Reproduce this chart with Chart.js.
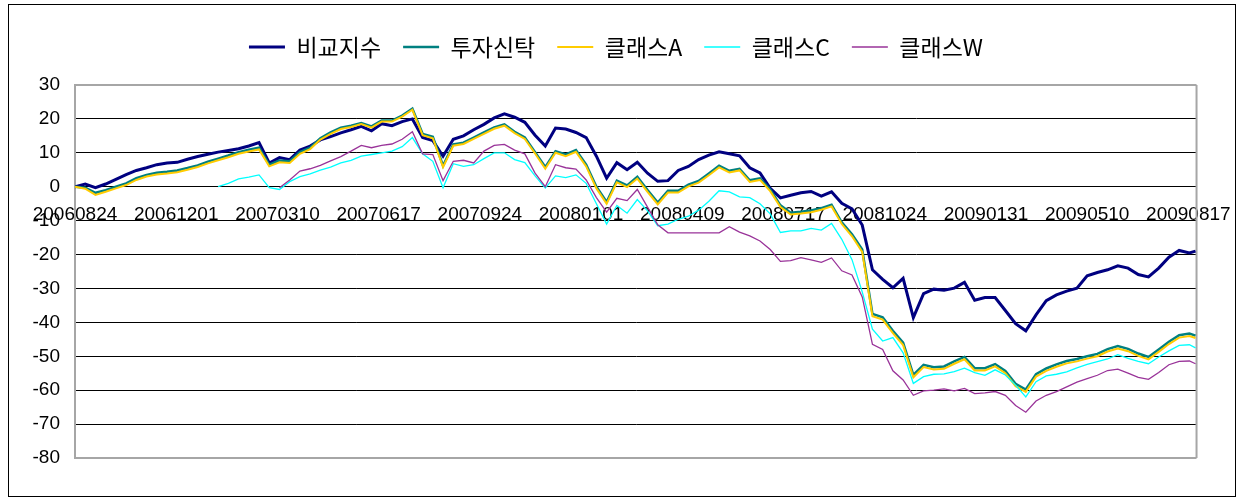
<!DOCTYPE html>
<html lang="ko">
<head>
<meta charset="UTF-8" />
<title>수익률 추이</title>
<style>
  html, body { margin: 0; background: #fff; }
  #wrap { position: relative; width: 1248px; height: 501px; }
</style>
<script src="https://cdn.jsdelivr.net/npm/chart.js"></script>
</head>
<body>
<div id="wrap"><canvas id="chart"></canvas></div>
<script>
// x positions: days since 2006-08-24, one reading every 10 days
const sampleDays = Array.from({ length: 110 }, (_, i) => i * 10).concat([1096]);

// category labels shown on the axis (every 99 days)
const tickDays = [0, 99, 198, 297, 396, 495, 594, 693, 792, 891, 990, 1089];
const tickLabels = ["20060824", "20061201", "20070310", "20070617", "20070924", "20080101",
  "20080409", "20080717", "20081024", "20090131", "20090510", "20090817"];

const seriesNames = ["비교지수", "투자신탁", "클래스A", "클래스C", "클래스W"];

const benchmark = [0, 0.8, -0.3, 0.8, 2.2, 3.6, 4.8, 5.6, 6.5, 7.0,
  7.2, 8.1, 8.9, 9.6, 10.2, 10.7, 11.2, 12.0, 13.0, 7.0,
  8.6, 8.0, 10.8, 12.0, 13.8, 14.8, 15.9, 16.8, 17.8, 16.5,
  18.6, 18.0, 19.2, 20.0, 14.5, 13.6, 9.0, 14.0, 15.0, 16.8,
  18.4, 20.3, 21.5, 20.5, 19.0, 15.2, 12.0, 17.3, 17.0, 16.0,
  14.5, 9.0, 2.5, 7.1, 5.0, 7.2, 4.0, 1.6, 1.8, 4.8,
  6.0, 8.0, 9.3, 10.3, 9.7, 9.1, 5.6, 4.1, -0.5, -3.3,
  -2.5, -1.8, -1.4, -2.8, -1.5, -4.9, -6.5, -11.3, -24.5, -27.3,
  -29.8, -27.0, -38.6, -31.5, -30.2, -30.5, -29.9, -28.2, -33.5, -32.7,
  -32.7, -36.5, -40.4, -42.5, -37.8, -33.6, -31.9, -30.8, -29.9, -26.3,
  -25.3, -24.5, -23.3, -24.0, -25.9, -26.6, -24.0, -20.8, -18.8, -19.5,
  -19.0];

const trust = [0, -0.3, -1.8, -1.0, 0.0, 1.0, 2.5, 3.5, 4.1, 4.4,
  4.8, 5.5, 6.3, 7.4, 8.3, 9.2, 10.2, 10.9, 11.5, 6.5,
  7.7, 7.5, 10.2, 11.5, 14.3, 16.0, 17.4, 18.0, 18.8, 17.8,
  19.5, 19.5, 21.0, 23.0, 15.6, 14.7, 6.2, 12.5, 13.0, 14.5,
  16.0, 17.5, 18.4, 16.2, 14.5, 10.2, 5.8, 10.5, 9.5, 10.8,
  6.5, 0.0, -4.5, 1.8, 0.4, 2.9, -1.0, -4.7, -1.2, -1.2,
  0.6, 1.7, 3.9, 6.2, 4.7, 5.3, 1.9, 2.5, -0.8, -5.5,
  -7.7, -7.4, -7.0, -6.3, -5.3, -10.5, -14.0, -18.5, -37.5, -38.5,
  -42.5, -46.0, -55.5, -52.5, -53.2, -53.0, -51.5, -50.2, -53.5, -53.5,
  -52.3, -54.3, -58.1, -59.8, -55.3, -53.6, -52.4, -51.4, -50.8, -50.0,
  -49.3, -47.9, -47.0, -47.8, -49.2, -50.2, -48.0, -45.7, -43.8, -43.3,
  -43.9];

const classA = [0, -0.6, -2.4, -1.5, -0.5, 0.5, 2.0, 3.0, 3.6, 3.9,
  4.3, 5.0, 5.8, 6.9, 7.8, 8.7, 9.7, 10.4, 11.0, 6.0,
  7.2, 7.0, 9.7, 11.1, 13.9, 15.6, 17.0, 17.6, 18.5, 17.4,
  19.2, 19.2, 20.7, 22.7, 15.2, 14.3, 5.8, 12.1, 12.6, 14.1,
  15.6, 17.1, 18.0, 15.8, 14.1, 9.8, 5.3, 10.0, 9.0, 10.3,
  6.0, -0.5, -5.0, 1.3, -0.1, 2.4, -1.5, -5.2, -1.7, -1.7,
  0.1, 1.2, 3.4, 5.7, 4.2, 4.8, 1.4, 2.0, -1.3, -6.0,
  -8.2, -7.9, -7.5, -6.8, -5.8, -11.0, -14.6, -19.2, -38.2, -39.2,
  -43.2, -46.7, -56.2, -53.2, -53.9, -53.7, -52.2, -50.9, -54.2, -54.2,
  -53.0, -55.0, -58.8, -60.5, -56.0, -54.3, -53.1, -52.1, -51.5, -50.7,
  -50.0, -48.6, -47.7, -48.5, -49.9, -50.9, -48.7, -46.4, -44.5, -44.0,
  -44.6];

const classC = [null, null, null, null, null, null, null, null, null, null,
  null, null, null, null, 0.0, 1.0, 2.3, 2.8, 3.5, -0.3,
  -0.8, 1.5, 3.0, 3.8, 4.9, 5.8, 7.0, 7.8, 9.0, 9.5,
  10.0, 10.5, 11.8, 14.5, 9.7, 7.5, -0.3, 6.8, 6.0, 6.5,
  8.3, 10.0, 10.0, 8.0, 7.1, 3.2, -0.4, 3.2, 2.7, 3.5,
  1.0, -5.0, -11.0, -5.5, -7.8, -3.8, -7.1, -11.5, -11.0, -9.6,
  -8.7, -6.9, -4.3, -1.2, -1.5, -3.0, -3.2, -5.0, -8.0, -13.5,
  -13.0, -13.0, -12.3, -12.8, -10.8, -15.5, -21.5, -31.0, -42.0, -45.5,
  -44.5, -49.0, -58.0, -56.0, -55.3, -55.2, -54.5, -53.5, -54.8, -55.6,
  -54.0, -55.5, -58.5, -62.0, -57.5, -55.8, -55.3, -54.6, -53.4, -52.4,
  -51.6, -50.8, -49.5, -50.6, -51.5, -52.2, -50.2, -48.4, -46.8, -46.6,
  -47.5];

const classW = [null, null, null, null, null, null, null, null, null, null,
  null, null, null, null, null, null, null, null, null, null,
  -0.3, 2.0, 4.6, 5.3, 6.3, 7.6, 8.9, 10.5, 12.2, 11.5,
  12.2, 12.6, 14.0, 16.2, 9.7, 9.5, 1.8, 7.5, 7.8, 7.0,
  10.5, 12.2, 12.5, 10.8, 9.7, 4.0, 0.0, 6.5, 5.6, 5.2,
  2.0, -3.2, -7.5, -3.4, -4.1, -0.8, -6.0, -11.2, -13.6, -13.6,
  -13.6, -13.6, -13.6, -13.6, -11.8, -13.4, -14.5, -16.0, -18.5, -22.0,
  -21.8, -20.9, -21.6, -22.3, -21.0, -24.8, -26.0, -32.5, -46.5, -48.0,
  -54.3, -57.0, -61.5, -60.2, -60.0, -59.6, -60.2, -59.5, -61.0, -60.8,
  -60.4, -61.5, -64.5, -66.5, -63.2, -61.5, -60.4, -59.0, -57.6, -56.6,
  -55.6, -54.2, -53.8, -55.0, -56.2, -56.8, -54.8, -52.5, -51.5, -51.4,
  -52.2];

const axisFont = {
  family: "'Liberation Sans', Arial, sans-serif",
  size: 19,
};

// outer frame + grey plot border, like the spreadsheet chart
const frames = {
  id: "frames",
  beforeDraw(chart) {
    const ctx = chart.ctx;
    ctx.save();
    ctx.strokeStyle = "#000";
    ctx.lineWidth = 1;
    ctx.strokeRect(8.5, 4.5, 1227, 492);
    ctx.restore();
  },
  beforeDatasetsDraw(chart) {
    const { ctx, chartArea } = chart;
    ctx.save();
    ctx.strokeStyle = "#a6a6a6";
    ctx.lineWidth = 2;
    ctx.beginPath();
    ctx.moveTo(chartArea.right, chartArea.top);
    ctx.lineTo(chartArea.right, chartArea.bottom);
    ctx.stroke();
    ctx.restore();
  },
};

function makeSet(i, values, color, width, order) {
  return {
    label: seriesNames[i],
    data: values,
    borderColor: color,
    backgroundColor: color,
    borderWidth: width,
    pointRadius: 0,
    tension: 0,
    fill: false,
    order: order,
    xAxisID: "x",
    yAxisID: "y",
  };
}

new Chart(document.getElementById("chart"), {
  type: "line",
  data: {
    labels: sampleDays,
    datasets: [
      makeSet(0, benchmark, "#000080", 3, 4),
      makeSet(1, trust, "#008080", 2.5, 3),
      makeSet(2, classA, "#ffcc00", 2, 2),
      makeSet(3, classC, "#00ffff", 1.3, 1),
      makeSet(4, classW, "#993399", 1.3, 0),
    ],
  },
  options: {
    responsive: true,
    maintainAspectRatio: false,
    animation: false,
    layout: { padding: { left: 30, right: 46, top: 13.5, bottom: 43 } },
    plugins: {
      legend: {
        position: "top",
        labels: {
          usePointStyle: true,
          pointStyle: "line",
          pointStyleWidth: 36,
          padding: 22,
          color: "#000",
          font: { family: "'Noto Sans CJK KR', sans-serif", size: 23 },
          sort: (a, b) => a.datasetIndex - b.datasetIndex,
        },
      },
      tooltip: { enabled: false },
    },
    scales: {
      x: {
        type: "linear",
        axis: "x",
        position: { y: 0 },
        min: 0,
        max: 1097,
        afterBuildTicks: (s) => {
          s.ticks = tickDays.map((v) => ({ value: v }));
        },
        grid: { display: false, drawTicks: false },
        border: { color: "#000", width: 1 },
        ticks: {
          autoSkip: false,
          maxRotation: 0,
          padding: 17,
          color: "#000",
          font: axisFont,
          callback: (v) => tickLabels[tickDays.indexOf(v)],
        },
      },
      gap: {
        type: "linear",
        axis: "x",
        position: "top",
        grid: { display: false, drawTicks: false },
        border: { display: false },
        ticks: { display: false },
        afterFit: (s) => {
          s.height = 16.5;
        },
      },
      y: {
        min: -80,
        max: 30,
        ticks: {
          stepSize: 10,
          padding: 15,
          color: "#000",
          font: axisFont,
          callback: (v) => String(v),
        },
        grid: {
          drawTicks: false,
          color: (c) => (c.tick.value === 30 || c.tick.value === -80 ? "#a6a6a6" : "#000"),
          lineWidth: (c) => (c.tick.value === 30 || c.tick.value === -80 ? 2 : 1),
        },
        border: { color: "#a6a6a6", width: 2 },
        afterFit: (s) => {
          s.width = 45;
        },
      },
    },
  },
  plugins: [frames],
});
</script>
</body>
</html>
